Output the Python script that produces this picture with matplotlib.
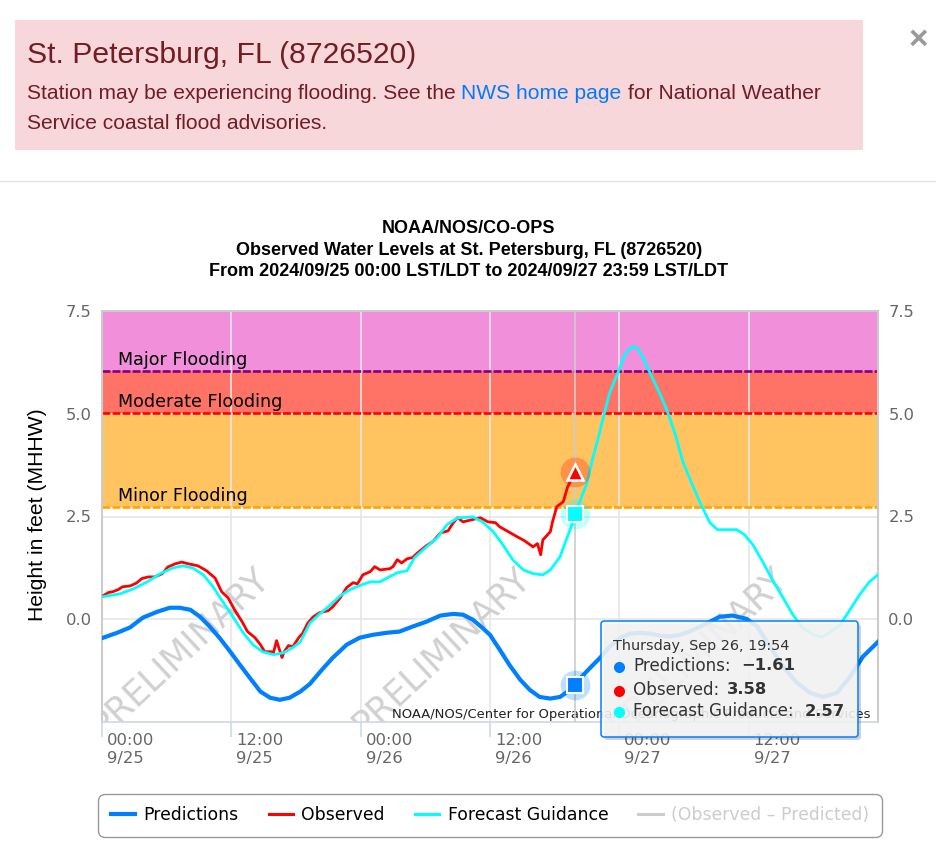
import matplotlib
matplotlib.use('Agg')
import matplotlib.pyplot as plt
from matplotlib.lines import Line2D
from matplotlib.patches import FancyBboxPatch, Rectangle
from matplotlib.transforms import ScaledTranslation

W, H = 937, 857

# hours since 2024/09/25 00:00
pred_t = [0.1, 1.4, 2.6, 3.8, 5.1, 6.3, 7.2, 8.2, 9.1, 10.0, 10.9, 11.9, 12.8, 13.7, 14.7, 15.6, 16.5, 17.4, 18.4,
          19.3, 20.4, 21.4, 22.7, 23.9, 25.1, 26.4, 27.6, 28.8, 30.1, 31.4, 32.6, 33.5, 34.4, 35.3, 36.0, 36.9,
          37.8, 38.8, 39.7, 40.6, 41.6, 42.5, 43.2, 43.9, 44.5, 45.3, 46.2, 47.1, 48.1, 49.0, 49.9, 50.8, 51.8,
          52.7, 53.6, 54.5, 55.5, 56.4, 57.3, 58.5, 59.8, 60.8, 62.0, 63.2, 64.5, 65.7, 66.9, 68.2, 69.4, 70.6, 72.0]
pred_v = [-0.45, -0.33, -0.2, 0.04, 0.18, 0.28, 0.28, 0.23, 0.06, -0.18, -0.45, -0.79, -1.11, -1.42, -1.76, -1.91,
          -1.96, -1.91, -1.76, -1.57, -1.23, -0.94, -0.62, -0.45, -0.38, -0.33, -0.3, -0.18, -0.06, 0.09, 0.13,
          0.11, -0.01, -0.21, -0.38, -0.74, -1.11, -1.47, -1.72, -1.89, -1.93, -1.89, -1.76, -1.61, -1.4, -1.18,
          -0.94, -0.67, -0.45, -0.35, -0.33, -0.35, -0.4, -0.42, -0.38, -0.3, -0.18, -0.06, 0.06, 0.09, 0.01,
          -0.18, -0.67, -1.16, -1.55, -1.79, -1.89, -1.79, -1.4, -0.91, -0.55]

obs_t = [0.1, 0.6, 1.0, 1.5, 1.9, 2.6, 3.2, 3.7, 4.3, 4.9, 5.6, 6.1, 6.8, 7.4, 8.0, 8.9, 9.7, 10.5, 11.1, 11.7,
         12.3, 13.0, 13.5, 14.2, 14.7, 15.1, 15.7, 15.9, 16.2, 16.4, 16.7, 16.9, 17.3, 17.7, 18.3, 18.6, 19.1,
         19.6, 20.2, 21.0, 21.4, 22.1, 22.7, 23.3, 23.7, 24.2, 24.9, 25.3, 25.8, 26.7, 27.0, 27.4, 27.8, 28.3,
         28.8, 29.3, 30.1, 30.7, 31.4, 32.1, 32.6, 33.0, 33.5, 34.3, 35.1, 35.8, 36.5, 36.9, 37.7, 38.5, 39.2,
         40.0, 40.4, 40.7, 40.9, 41.6, 41.8, 42.2, 42.8, 43.2, 43.9]
obs_v = [0.57, 0.65, 0.67, 0.72, 0.79, 0.81, 0.88, 0.99, 1.03, 1.03, 1.11, 1.27, 1.35, 1.39, 1.35, 1.3, 1.18, 1.0,
         0.67, 0.52, 0.23, -0.06, -0.3, -0.45, -0.62, -0.79, -0.79, -0.82, -0.52, -0.69, -0.93, -0.79, -0.64,
         -0.67, -0.43, -0.35, -0.09, 0.06, 0.16, 0.21, 0.3, 0.52, 0.77, 0.89, 0.86, 1.08, 1.16, 1.28, 1.2, 1.23,
         1.28, 1.45, 1.37, 1.47, 1.5, 1.62, 1.79, 1.89, 2.1, 2.15, 2.35, 2.47, 2.37, 2.42, 2.47, 2.37, 2.35, 2.25,
         2.13, 2.01, 1.91, 1.76, 1.84, 1.57, 1.93, 2.13, 2.37, 2.74, 2.86, 3.22, 3.58]

fcst_t = [0.1, 1.7, 2.9, 4.2, 5.4, 6.6, 7.5, 8.4, 9.4, 10.3, 11.2, 12.2, 13.1, 14.0, 14.9, 15.9, 16.8, 17.7, 18.4,
          19.3, 20.2, 21.2, 22.1, 23.0, 23.9, 24.9, 25.8, 26.5, 27.4, 28.3, 29.0, 30.1, 31.1, 32.0, 32.9, 33.2,
          34.4, 35.3, 36.3, 37.2, 38.1, 39.1, 40.0, 40.9, 41.6, 42.5, 42.9, 43.6, 43.9, 45.0, 45.5, 46.0, 46.5,
          47.1, 47.9, 48.5, 49.0, 49.4, 49.7, 50.2, 50.8, 51.6, 52.4, 53.2, 53.9, 54.7, 55.5, 56.4, 57.1, 58.0,
          58.9, 59.6, 60.4, 61.3, 62.2, 63.2, 64.1, 65.0, 66.0, 66.8, 67.5, 68.5, 69.4, 70.3, 71.2, 72.0]
fcst_v = [0.55, 0.62, 0.74, 0.91, 1.11, 1.25, 1.3, 1.25, 1.08, 0.79, 0.43, 0.04, -0.33, -0.62, -0.79, -0.86, -0.82,
          -0.69, -0.55, -0.09, 0.13, 0.35, 0.57, 0.72, 0.82, 0.91, 0.91, 1.01, 1.13, 1.18, 1.5, 1.76, 1.98, 2.3,
          2.45, 2.47, 2.49, 2.37, 2.13, 1.81, 1.45, 1.2, 1.11, 1.08, 1.2, 1.52, 1.81, 2.3, 2.57, 3.32, 3.88, 4.37,
          4.9, 5.51, 6.02, 6.43, 6.6, 6.63, 6.58, 6.36, 6.02, 5.58, 5.1, 4.49, 3.83, 3.32, 2.83, 2.35, 2.18, 2.18,
          2.18, 2.06, 1.81, 1.4, 0.96, 0.52, 0.11, -0.21, -0.38, -0.43, -0.33, -0.13, 0.23, 0.6, 0.91, 1.08]

now_t = 43.9
now_vals = {'pred': -1.61, 'obs': 3.58, 'fcst': 2.57}

x_ticks = [0, 12, 24, 36, 48, 60]
x_labels = ['00:00\n9/25', '12:00\n9/25', '00:00\n9/26', '12:00\n9/26', '00:00\n9/27', '12:00\n9/27']
y_ticks = [0, 2.5, 5, 7.5]
y_labels = ['0.0', '2.5', '5.0', '7.5']

flood_levels = [2.72, 5.02, 6.03, 7.5]
flood_names = ['Minor Flooding', 'Moderate Flooding', 'Major Flooding']
flood_fill = ['#ffc35f', '#ff7366', '#f18fdb']
flood_line = ['#ffa500', '#ff0000', '#800080']

BLUE = '#0080ff'
RED = '#ff0000'
CYAN = '#00ffff'
GREY = '#666666'
SANS = 'Liberation Sans'

fig = plt.figure(figsize=(W / 100, H / 100), dpi=100, facecolor='white')
ax = fig.add_axes([102 / W, 1 - 722 / H, 776 / W, 411 / H])
ax.set_xlim(0, 72)
ax.set_ylim(-2.5, 7.5)

for i in range(3):
    ax.axhspan(flood_levels[i], flood_levels[i + 1], color=flood_fill[i], lw=0, zorder=0)
    ax.axhline(flood_levels[i], color=flood_line[i], lw=1.9, dashes=(3.0, 0.8), zorder=2)
    ax.text(1.5, flood_levels[i] + 0.05, flood_names[i], fontsize=12.6, color='black', va='bottom', zorder=3)

ax.set_xticks(x_ticks)
ax.set_xticklabels(x_labels, ha='left', color=GREY, fontsize=11.8, linespacing=1.2)
ax.tick_params(axis='x', length=11, width=1.1, color='#ccd6eb', pad=-3)
offset = ScaledTranslation(5 / 100, 0, fig.dpi_scale_trans)
for lab in ax.get_xticklabels():
    lab.set_transform(lab.get_transform() + offset)
ax.set_yticks(y_ticks)
ax.set_yticklabels(y_labels, color=GREY, fontsize=11.8)
ax.tick_params(axis='y', length=0, pad=7.4, labelright=True, right=False)
ax.grid(True, color='#e6e6e6', lw=1.2)
ax.set_axisbelow(True)
ax.set_ylabel('Height in feet (MHHW)', family=SANS, fontsize=15.2, color='black')
ax.yaxis.set_label_coords((47 - 102) / 776, (722 - 515) / 411)

for name in ['top', 'left', 'right']:
    ax.spines[name].set_color('#cccccc')
    ax.spines[name].set_linewidth(1.5)
ax.spines['bottom'].set_color('#ccd6eb')
ax.spines['bottom'].set_linewidth(1.2)

for hour in [0.6, 24.8, 48.7]:
    ax.text(hour, -3.0, 'PRELIMINARY', rotation=43, rotation_mode='anchor', fontsize=25, color='#d0d0d0',
            ha='left', va='bottom', clip_on=True, zorder=1.5)

ax.text(71.3, -2.32, 'NOAA/NOS/Center for Operational Oceanographic Products and Services', fontsize=9.45,
        ha='right', va='center', color='#222222', zorder=3)

ax.axvline(now_t, color='#cccccc', lw=1.2, zorder=3)

l_pred, = ax.plot(pred_t, pred_v, color=BLUE, lw=3, zorder=4, label='Predictions', solid_joinstyle='round')
l_obs, = ax.plot(obs_t, obs_v, color=RED, lw=2, zorder=5, label='Observed', solid_joinstyle='round')
l_fcst, = ax.plot(fcst_t, fcst_v, color=CYAN, lw=2, zorder=6, label='Forecast Guidance', solid_joinstyle='round')
l_diff = Line2D([], [], color='#cccccc', lw=2, label='(Observed \u2013 Predicted)')

# hover markers
ax.scatter([now_t], [now_vals['pred']], s=460, color=BLUE, alpha=0.25, lw=0, zorder=7, clip_on=False)
ax.scatter([now_t], [now_vals['obs']], s=460, color=RED, alpha=0.25, lw=0, zorder=7, clip_on=False)
ax.scatter([now_t], [now_vals['fcst']], s=460, color=CYAN, alpha=0.25, lw=0, zorder=7, clip_on=False)
ax.plot([now_t], [now_vals['pred']], 's', ms=11, color=BLUE, mec='white', mew=1.5, zorder=8)
ax.plot([now_t], [now_vals['fcst']], 's', ms=11, color=CYAN, mec='white', mew=1.5, zorder=8)
ax.plot([now_t], [now_vals['obs']], '^', ms=12, color=RED, mec='white', mew=1.8, zorder=8)

leg = fig.legend(handles=[l_pred, l_obs, l_fcst, l_diff], loc='center', bbox_to_anchor=(490 / W, 1 - 815.5 / H),
                 ncol=4, fontsize=12.4, frameon=True, fancybox=True, framealpha=1, edgecolor='#999999',
                 handlelength=1.4, handletextpad=0.5, columnspacing=1.75, borderpad=0.72, borderaxespad=0)
leg.get_frame().set_linewidth(1)
leg.get_frame().set_boxstyle('round,pad=0,rounding_size=0.4')
for handle, text in zip(leg.legend_handles, leg.get_texts()):
    handle.set_linewidth(3 if text.get_text() == 'Predictions' else 2.2)
leg.get_texts()[3].set_color('#cccccc')

# page furniture and tooltip, in pixel coordinates
pg = fig.add_axes([0, 0, 1, 1], zorder=10)
pg.set_xlim(0, W)
pg.set_ylim(H, 0)
pg.axis('off')
pg.patch.set_alpha(0)

pg.add_patch(Rectangle((15, 20), 848, 130, color='#f8d7da', lw=0))
pg.text(27, 55, 'St. Petersburg, FL (8726520)', family=SANS, fontsize=21.7, color='#721c24', va='center')
pg.text(27, 93, 'Station may be experiencing flooding. See the', family=SANS, fontsize=15.1, color='#721c24', va='center')
pg.text(461, 93, 'NWS home page', family=SANS, fontsize=15.1, color='#007bff', va='center')
pg.text(628, 93, 'for National Weather', family=SANS, fontsize=15.1, color='#721c24', va='center')
pg.text(27, 123, 'Service coastal flood advisories.', family=SANS, fontsize=15.1, color='#721c24', va='center')
pg.text(918, 40, '\u00d7', family=SANS, fontsize=24, fontweight='bold', color='#999999', ha='center', va='center')
pg.plot([0, W], [180.5, 180.5], color='#e5e5e5', lw=1)

title_lines = ['NOAA/NOS/CO-OPS', 'Observed Water Levels at St. Petersburg, FL (8726520)',
               'From 2024/09/25 00:00 LST/LDT to 2024/09/27 23:59 LST/LDT']
for ypos, line in zip([228, 250, 272], title_lines):
    pg.text(469, ypos, line, family=SANS, fontsize=13, fontweight='bold', color='black', ha='center', va='center')

pg.add_patch(FancyBboxPatch((604, 624), 257, 116, boxstyle='round,pad=0,rounding_size=3', fc='#000000', alpha=0.18, lw=0))
pg.add_patch(FancyBboxPatch((601, 621), 257, 116, boxstyle='round,pad=0,rounding_size=3', fc='#f7f7f7', alpha=0.88,
                            ec='none', lw=0))
pg.add_patch(FancyBboxPatch((601, 621), 257, 116, boxstyle='round,pad=0,rounding_size=3', fc='none', ec=BLUE, lw=1.1))
pg.text(613, 646, 'Thursday, Sep 26, 19:54', fontsize=10.4, color='#333333', va='center')
rows = [(666, BLUE, 'Predictions:', 741, '\u22121.61'), (690, RED, 'Observed:', 727, '3.58'),
        (711, CYAN, 'Forecast Guidance:', 805, '2.57')]
for ypos, col, name, xval, val in rows:
    pg.plot([619], [ypos + 1], 'o', ms=8, color=col, mew=0)
    pg.text(633, ypos, name, fontsize=12.1, color='#333333', va='center')
    pg.text(xval, ypos, val, fontsize=11.8, fontweight='bold', color='#333333', va='center')

fig.savefig('out.png', dpi=100)
